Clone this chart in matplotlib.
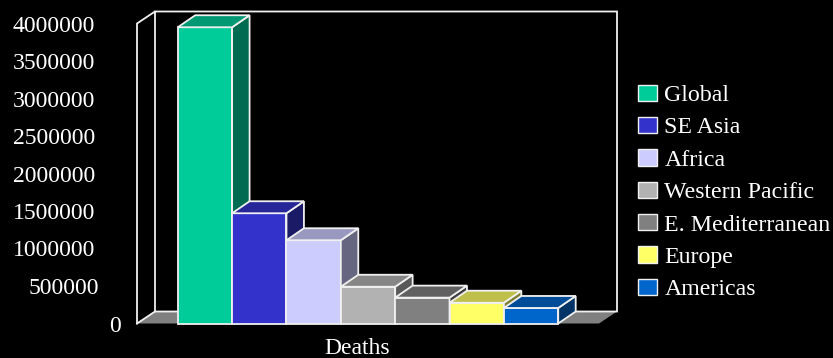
import matplotlib
matplotlib.use('Agg')
import matplotlib.pyplot as plt
from matplotlib.patches import Patch

regions = ['Global', 'SE Asia', 'Africa', 'Western Pacific', 'E. Mediterranean', 'Europe', 'Americas']
deaths = [3950000, 1470000, 1110000, 490000, 345000, 277000, 207000]
tick_values = [0, 500000, 1000000, 1500000, 2000000, 2500000, 3000000, 3500000, 4000000]
tick_labels = ['0', '500000', '1000000', '1500000', '2000000', '2500000', '3000000', '3500000', '4000000']

front_colors = ['#00CC99', '#3333CC', '#CCCCFF', '#B2B2B2', '#808080', '#FFFF66', '#0066CC']
top_colors = ['#009973', '#262699', '#9999BF', '#868686', '#606060', '#BFBF4C', '#004C99']
side_colors = ['#006B50', '#1A1A66', '#666680', '#595959', '#404040', '#808033', '#003366']

W, H = 833, 358
LINE = '#F0F0F0'

plt.rcParams['font.family'] = ['Liberation Serif', 'DejaVu Serif']

fig = plt.figure(figsize=(W / 100, H / 100), dpi=100, facecolor='black')
# axes cover the front plane of the 3D box
ax = fig.add_axes([137 / W, 1 - 323.5 / H, 462 / W, 300 / H], facecolor='none')
ax.set_xlim(-1.25, 7.25)
ax.set_ylim(0, 4000000)
for s in ax.spines.values():
    s.set_visible(False)
ax.patch.set_visible(False)

# depth of the box and the bars, in data units
dx = 18 / (462 / 8.5)
dy = 12 / (300 / 4000000)
x0, x1 = ax.get_xlim()
top = 4000000

# floor and walls
ax.fill([x0, x0 + dx, x1 + dx, x1], [0, dy, dy, 0], color='#808080', lw=0, clip_on=False, zorder=1)
ax.plot([x0, x0, x0 + dx, x0 + dx, x1 + dx, x1 + dx, x0 + dx], [0, top, top + dy, dy, dy, top + dy, top + dy],
        color=LINE, lw=1.3, clip_on=False, zorder=2, solid_joinstyle='miter')
ax.plot([x0, x0 + dx], [0, dy], color=LINE, lw=1.3, clip_on=False, zorder=2)

# bars, left to right so each one covers the side of the previous one
bar_dx = dx * 0.97
for i, v in enumerate(deaths):
    l, r = i - 0.5, i + 0.5
    z = 3 + i
    ax.bar(i, v, width=1.0, color=front_colors[i], edgecolor=LINE, linewidth=1.3, zorder=z, clip_on=False)
    ax.fill([r, r + bar_dx, r + bar_dx, r], [0, dy, v + dy, v], facecolor=side_colors[i],
            edgecolor=LINE, lw=1.3, zorder=z, clip_on=False)
    ax.fill([l, l + bar_dx, r + bar_dx, r], [v, v + dy, v + dy, v], facecolor=top_colors[i],
            edgecolor=LINE, lw=1.3, zorder=z, clip_on=False)

# tick labels do not share one right edge
ax.set_yticks(tick_values)
ax.set_yticklabels(tick_labels)
ax.tick_params(axis='y', length=0, colors='white', labelsize=17.1)
pads = [11, 33, 37, 37, 37, 37, 37, 37, 37]
for lab, pad in zip(ax.get_yticklabels(), pads):
    lab.set_ha('right')
    lab.set_x(-pad / 462)

ax.set_xticks([])
ax.set_xlabel('Deaths', color='white', fontsize=17)
ax.xaxis.set_label_coords((357 - 137) / 462, -14 / 300, transform=ax.transAxes)
ax.xaxis.label.set_va('top')

handles = [Patch(facecolor=c, edgecolor=LINE, linewidth=1.0) for c in front_colors]
leg = fig.legend(handles, regions, loc='upper left', bbox_to_anchor=(638 / W, 1 - 84.5 / H),
                 frameon=False, fontsize=17.2, labelcolor='white', handlelength=0.8, handleheight=0.67,
                 handletextpad=0.3, labelspacing=0.455, borderaxespad=0, borderpad=0)

fig.savefig('out.png', dpi=100, facecolor='black')
